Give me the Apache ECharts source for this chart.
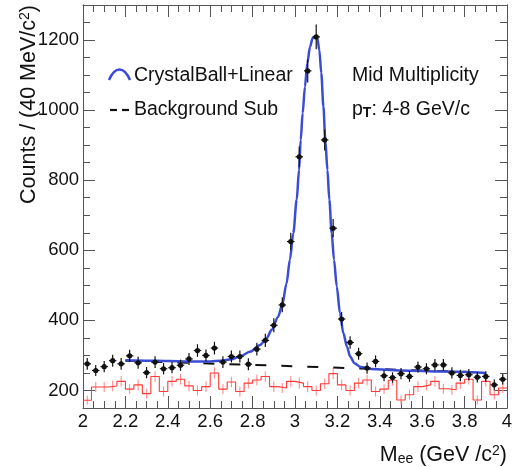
<!DOCTYPE html>
<html>
<head>
<meta charset="utf-8">
<script src="https://cdn.jsdelivr.net/npm/echarts@6/dist/echarts.min.js"></script>
<style>
  html, body { margin: 0; padding: 0; background: #ffffff; }
  #chart { width: 518px; height: 467px; }
</style>
</head>
<body>
<div id="chart"></div>
<script>
// Dielectron invariant mass, 40 MeV/c^2 bins between 2 and 4 GeV/c^2
const binWidth = 0.04;
const binCenters = [
  2.02, 2.06, 2.10, 2.14, 2.18, 2.22, 2.26, 2.30, 2.34, 2.38,
  2.42, 2.46, 2.50, 2.54, 2.58, 2.62, 2.66, 2.70, 2.74, 2.78,
  2.82, 2.86, 2.90, 2.94, 2.98, 3.02, 3.06, 3.10, 3.14, 3.18,
  3.22, 3.26, 3.30, 3.34, 3.38, 3.42, 3.46, 3.50, 3.54, 3.58,
  3.62, 3.66, 3.70, 3.74, 3.78, 3.82, 3.86, 3.90, 3.94, 3.98
];

// Unlike-sign pairs (black points)
const pairCounts = [
  276, 257, 268, 285, 276, 299, 279, 251, 281, 262,
  265, 272, 290, 314, 300, 321, 281, 297, 297, 275,
  318, 343, 386, 444, 625, 867, 1112, 1209, 915, 663,
  404, 337, 305, 264, 283, 242, 237, 248, 240, 267,
  262, 273, 273, 250, 243, 245, 238, 240, 216, 232
];
const pairErrors = [
  17, 16, 16, 17, 17, 17, 17, 16, 17, 16,
  16, 16, 17, 18, 17, 18, 17, 17, 17, 17,
  18, 19, 20, 21, 25, 29, 33, 35, 30, 26,
  20, 18, 17, 16, 17, 16, 15, 16, 15, 16,
  16, 17, 17, 16, 16, 16, 15, 15, 15, 15
];

// Combinatorial background (red histogram)
const bkgCounts = [
  172, 210, 210, 213, 226, 204, 216, 191, 240, 197,
  226, 232, 213, 200, 211, 250, 204, 224, 197, 221,
  230, 240, 211, 207, 226, 221, 211, 200, 219, 248,
  216, 200, 221, 230, 197, 204, 229, 173, 188, 211,
  216, 226, 205, 202, 221, 232, 173, 226, 188, 207
];
const bkgErrors = [
  13, 14, 14, 15, 15, 14, 15, 14, 15, 14,
  15, 15, 15, 14, 15, 16, 14, 15, 14, 15,
  15, 15, 15, 14, 15, 15, 15, 14, 15, 16,
  15, 14, 15, 15, 14, 14, 15, 13, 14, 15,
  15, 15, 14, 14, 15, 15, 13, 15, 14, 14
];

// Crystal Ball + linear fit curve, sampled along the fit range
const fitMass = [
  2.20, 2.30, 2.40, 2.50, 2.60, 2.65, 2.70, 2.74, 2.79, 2.835,
  2.866, 2.89, 2.92, 2.94, 2.96, 2.976, 2.992, 3.008, 3.019, 3.027,
  3.036, 3.047, 3.058, 3.071, 3.083, 3.094, 3.105, 3.115, 3.124, 3.134,
  3.143, 3.153, 3.162, 3.173, 3.184, 3.197, 3.212, 3.228, 3.245, 3.26,
  3.28, 3.31, 3.36, 3.50, 3.70, 3.90
];
const fitCounts = [
  286, 285, 284, 283, 283, 285, 289, 297, 311, 330,
  349, 373, 410, 445, 505, 573, 649, 744, 829, 915,
  991, 1067, 1134, 1181, 1205, 1211, 1205, 1171, 1105, 1010,
  915, 829, 744, 649, 573, 497, 421, 364, 325, 297,
  278, 267, 261, 257, 254, 250
];

// Linear background component of the fit
const linearMass = [2.20, 3.90];
const linearCounts = [285, 251];

// Axis ticks
const xMin = 2, xMax = 4, xStep = 0.2;
const yMin = 150, yMax = 1300;
const yMajorTicks = [200, 400, 600, 800, 1000, 1200];
const yMinorTicks = [150, 200, 250, 300, 350, 400, 450, 500, 550, 600, 650, 700, 750,
                     800, 850, 900, 950, 1000, 1050, 1100, 1150, 1200, 1250, 1300];

const FONT = "'Liberation Sans', Arial, Helvetica, sans-serif";
const FRAME = '#555555';
const BLUE = '#3b4cd4';

// histogram outline: flat top over each bin, joined at the edges
const bkgStep = [];
binCenters.forEach((c, i) => {
  bkgStep.push([c - binWidth / 2, bkgCounts[i]]);
  bkgStep.push([c + binWidth / 2, bkgCounts[i]]);
});

const pairData = binCenters.map((c, i) => [c, pairCounts[i], pairErrors[i], binWidth / 2]);
const bkgErrData = binCenters.map((c, i) => [c, bkgCounts[i], bkgErrors[i]]);
const fitData = fitMass.map((m, i) => [m, fitCounts[i]]);
const linearData = linearMass.map((m, i) => [m, linearCounts[i]]);

function xAxisCfg(pos, showLabels) {
  return {
    type: 'value', position: pos, min: xMin, max: xMax, interval: xStep,
    axisLine: { show: true, onZero: false, lineStyle: { color: FRAME, width: 1 } },
    axisTick: { show: true, inside: true, length: 12, lineStyle: { color: FRAME } },
    minorTick: { show: true, splitNumber: 4, length: 7, lineStyle: { color: FRAME } },
    splitLine: { show: false }, minorSplitLine: { show: false },
    axisLabel: {
      show: showLabels, margin: 4, color: '#111', fontSize: 18.5, fontFamily: FONT,
      formatter: v => String(Math.round(v * 10) / 10)
    }
  };
}

function yAxisCfg(pos, ticks, len, labels) {
  return {
    type: 'value', position: pos, min: yMin, max: yMax, offset: 0,
    axisLine: { show: true, onZero: false, lineStyle: { color: FRAME, width: 1 } },
    axisTick: { show: true, inside: true, length: len, customValues: ticks, lineStyle: { color: FRAME } },
    splitLine: { show: false },
    axisLabel: labels ? {
      show: true, margin: 4, color: '#111', fontSize: 18.5, fontFamily: FONT,
      customValues: yMajorTicks, formatter: v => String(Math.round(v))
    } : { show: false }
  };
}

const chart = echarts.init(document.getElementById('chart'), null, { renderer: 'canvas' });

chart.setOption({
  animation: false,
  backgroundColor: '#ffffff',
  grid: { left: 83, right: 11, top: 5, bottom: 59 },
  xAxis: [xAxisCfg('bottom', true), xAxisCfg('top', false)],
  yAxis: [
    yAxisCfg('left', yMajorTicks, 12, true),
    yAxisCfg('left', yMinorTicks, 7, false),
    yAxisCfg('right', yMajorTicks, 12, false),
    yAxisCfg('right', yMinorTicks, 7, false)
  ],
  series: [
    {
      name: 'background histogram', type: 'line', data: bkgStep,
      symbol: 'none', z: 2,
      lineStyle: { color: '#ff3a3a', width: 1.1 }
    },
    {
      name: 'background errors', type: 'custom', data: bkgErrData, z: 2,
      renderItem: (params, api) => {
        const x = api.value(0), y = api.value(1), e = api.value(2);
        const a = api.coord([x, y + e]), b = api.coord([x, y - e]);
        return { type: 'line', shape: { x1: a[0], y1: a[1], x2: b[0], y2: b[1] },
                 style: { stroke: '#ff8c8c', lineWidth: 1.1 } };
      }
    },
    {
      name: 'Background Sub', type: 'line', data: linearData,
      symbol: 'none', z: 3,
      lineStyle: { color: '#111', width: 2, type: [11, 15] }
    },
    {
      name: 'CrystalBall+Linear', type: 'line', data: fitData,
      symbol: 'none', smooth: 0.3, smoothMonotone: 'x', z: 4,
      lineStyle: { color: BLUE, width: 2.5 }
    },
    {
      name: 'data', type: 'custom', data: pairData, z: 5,
      renderItem: (params, api) => {
        const x = api.value(0), y = api.value(1), e = api.value(2), hw = api.value(3);
        const t = api.coord([x, y + e]), b = api.coord([x, y - e]);
        const l = api.coord([x - hw, y]), r = api.coord([x + hw, y]);
        const c = api.coord([x, y]);
        const st = { stroke: '#111', lineWidth: 1.2 };
        return { type: 'group', children: [
          { type: 'line', shape: { x1: t[0], y1: t[1], x2: b[0], y2: b[1] }, style: st },
          { type: 'line', shape: { x1: l[0] + 0.5, y1: l[1], x2: r[0] - 0.5, y2: r[1] }, style: st },
          { type: 'circle', shape: { cx: c[0], cy: c[1], r: 2.6 }, style: { fill: '#111' } }
        ] };
      }
    }
  ],
  graphic: [
    // axis titles
    {
      type: 'text', x: 40, y: 5, rotation: Math.PI / 2,
      style: {
        text: '{n|Counts / (40 MeV/c}{s|2}{n|)}',
        align: 'right', verticalAlign: 'bottom',
        fill: '#111', fontFamily: FONT, fontSize: 21.5,
        rich: {
          n: { fontSize: 21.5, fontFamily: FONT, fill: '#111' },
          s: { fontSize: 14, fontFamily: FONT, fill: '#111', verticalAlign: 'top' }
        }
      }
    },
    {
      type: 'text', x: 507, y: 466,
      style: {
        text: '{n|M}{b|ee}{n| (GeV /c}{s|2}{n|)}',
        align: 'right', verticalAlign: 'bottom',
        fill: '#111', fontFamily: FONT, fontSize: 21.5,
        rich: {
          n: { fontSize: 21.5, fontFamily: FONT, fill: '#111' },
          b: { fontSize: 14, fontFamily: FONT, fill: '#111', verticalAlign: 'bottom' },
          s: { fontSize: 14, fontFamily: FONT, fill: '#111', verticalAlign: 'top' }
        }
      }
    },
    // legend
    {
      type: 'bezierCurve',
      shape: { x1: 109, y1: 80, cpx1: 115, cpy1: 66, cpx2: 124, cpy2: 66, x2: 130, y2: 80 },
      style: { stroke: BLUE, lineWidth: 2.5, fill: null }
    },
    { type: 'line', shape: { x1: 110, y1: 110, x2: 117, y2: 110 }, style: { stroke: '#111', lineWidth: 2.2 } },
    { type: 'line', shape: { x1: 122, y1: 110, x2: 129, y2: 110 }, style: { stroke: '#111', lineWidth: 2.2 } },
    {
      type: 'text', x: 134, y: 76,
      style: { text: 'CrystalBall+Linear', fill: '#111', fontFamily: FONT, fontSize: 19.5,
               align: 'left', verticalAlign: 'middle' }
    },
    {
      type: 'text', x: 134, y: 110,
      style: { text: 'Background Sub', fill: '#111', fontFamily: FONT, fontSize: 19.5,
               align: 'left', verticalAlign: 'middle' }
    },
    // selection labels
    {
      type: 'text', x: 352, y: 76,
      style: { text: 'Mid Multiplicity', fill: '#111', fontFamily: FONT, fontSize: 19.5,
               align: 'left', verticalAlign: 'middle' }
    },
    {
      type: 'text', x: 352, y: 110,
      style: {
        text: '{n|p}{b|T}{n|: 4-8 GeV/c}', fill: '#111', fontFamily: FONT, fontSize: 19.5,
        align: 'left', verticalAlign: 'middle',
        rich: {
          n: { fontSize: 19.5, fontFamily: FONT, fill: '#111' },
          b: { fontSize: 14, fontWeight: 'bold', fontFamily: FONT, fill: '#111', verticalAlign: 'bottom' }
        }
      }
    }
  ]
});
</script>
</body>
</html>
